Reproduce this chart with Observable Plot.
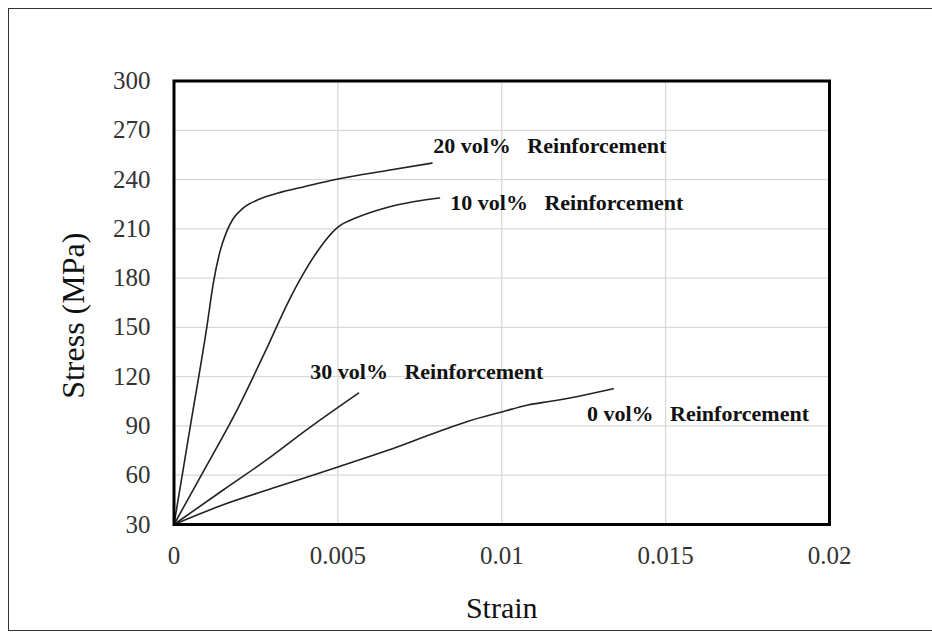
<!DOCTYPE html>
<html><head><meta charset="utf-8">
<script src="https://cdn.jsdelivr.net/npm/d3@7"></script>
<script src="https://cdn.jsdelivr.net/npm/@observablehq/plot@0.6"></script>
<style>
html,body{margin:0;padding:0;background:#fff;}
#wrap{position:relative;width:932px;height:632px;overflow:hidden;background:#fff;}
#border{position:absolute;left:8px;top:8px;width:1000px;height:623px;border:1.5px solid #333;box-sizing:border-box;}
#chart{position:absolute;left:0;top:0;}
svg, svg text{font-family:"Liberation Serif","Times New Roman","DejaVu Serif",serif !important;}
svg text{white-space:pre;}
</style></head><body>
<div id="wrap"><div id="chart"></div><div id="border"></div></div>
<script>
// Tick values
const xTicks = [0, 0.005, 0.01, 0.015, 0.02];
const yTicks = [30, 60, 90, 120, 150, 180, 210, 240, 270, 300];

// Series: 0 vol%
const strain0 = [0, 0.0015, 0.003, 0.005, 0.0065, 0.0081, 0.009, 0.01, 0.0108, 0.0115, 0.0122, 0.0134];
const stress0 = [30, 42, 52, 65, 75, 86.8, 93, 98.5, 102.8, 105, 107.5, 112.6];
// Series: 10 vol%
const strain10 = [0, 0.001, 0.00193, 0.0028, 0.0035, 0.0039, 0.0044, 0.005, 0.0056, 0.0065, 0.0073, 0.0081];
const stress10 = [30, 66, 100, 136, 166, 181, 197, 211, 217, 223, 226.5, 228.8];
// Series: 20 vol%
const strain20 = [0, 0.0005, 0.001, 0.0012, 0.0014, 0.0016, 0.0018, 0.0021, 0.0026, 0.0033, 0.004, 0.005, 0.0065, 0.00787];
const stress20 = [30, 90, 150, 177, 196, 208, 216, 222.5, 228, 232.5, 235.8, 240.3, 245.5, 250];
// Series: 30 vol%
const strain30 = [0, 0.0015, 0.00294, 0.004, 0.00563];
const stress30 = [30, 51, 71, 87, 110];

// Annotation labels
const labelText = ["20 vol%   Reinforcement", "10 vol%   Reinforcement", "30 vol%   Reinforcement", "0 vol%   Reinforcement"];
const labelStrain = [0.00791, 0.00843, 0.00416, 0.0126];
const labelStress = [255.9, 221.2, 118.7, 93.3];

const toRows = (xs, ys) => xs.map((x, i) => ({x, y: ys[i]}));
const series = [toRows(strain0, stress0), toRows(strain10, stress10), toRows(strain20, stress20), toRows(strain30, stress30)];
const labels = labelText.map((t, i) => ({t, x: labelStrain[i], y: labelStress[i]}));

const chart = Plot.plot({
  width: 932, height: 632,
  marginLeft: 173.5, marginTop: 80.5, marginRight: 103, marginBottom: 108,
  x: {domain: [0, 0.02]},
  y: {domain: [30, 300]},
  style: {fontFamily: "Liberation Serif", background: "transparent", overflow: "visible"},
  marks: [
    Plot.gridX(xTicks, {stroke: "#d9d9d9", strokeOpacity: 1, strokeWidth: 1.3}),
    Plot.gridY(yTicks, {stroke: "#d9d9d9", strokeOpacity: 1, strokeWidth: 1.3}),
    Plot.axisX(xTicks, {tickSize: 0, tickPadding: 22, fontSize: 25, fill: "#333", tickFormat: d => String(d), label: null}),
    Plot.axisY(yTicks, {tickSize: 0, tickPadding: 23.5, fontSize: 25, fill: "#333", label: null}),
    ...series.map(s => Plot.line(s, {x: "x", y: "y", stroke: "#222", strokeWidth: 1.6, curve: "monotone-x"})),
    Plot.text(labels, {x: "x", y: "y", text: "t", textAnchor: "start", lineAnchor: "bottom", fontSize: 22, fontWeight: "bold", fill: "#111"}),
    Plot.text(["Stress (MPa)"], {text: d => d, frameAnchor: "left", textAnchor: "middle", lineAnchor: "middle", rotate: -90, dx: -100, dy: 13, fontSize: 32, fill: "#111"}),
    Plot.text(["Strain"], {text: d => d, frameAnchor: "bottom", textAnchor: "middle", lineAnchor: "bottom", dy: 93, fontSize: 30, fill: "#111"}),
    Plot.frame({stroke: "#000", strokeWidth: 3})
  ]
});
document.getElementById("chart").appendChild(chart);
</script>
</body></html>
